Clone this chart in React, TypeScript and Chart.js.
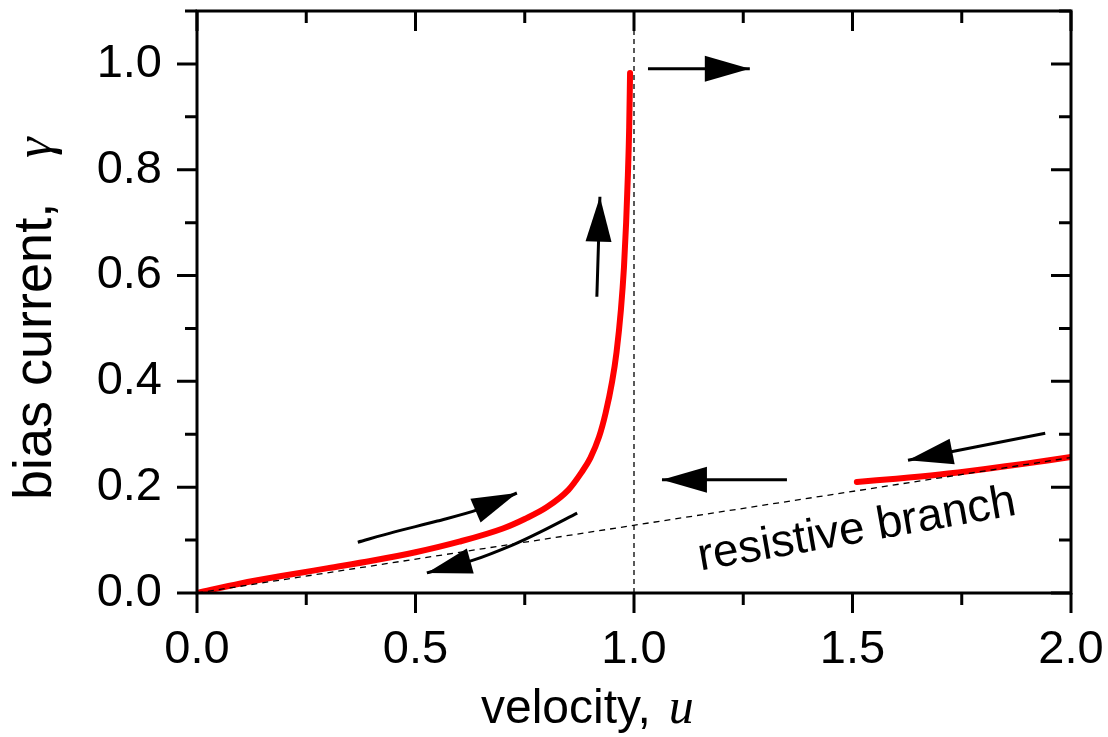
import React, { useEffect, useRef } from "react";
import { Chart, registerables } from "chart.js";

Chart.register(...registerables);

// ---- data (velocity u, bias current gamma) ----
const mainU = [0, 0.1, 0.2, 0.3, 0.4, 0.5, 0.6, 0.7, 0.75, 0.8, 0.85, 0.88, 0.9, 0.92, 0.935, 0.95, 0.96, 0.97, 0.977, 0.982, 0.986, 0.989, 0.991];
const mainG = [0, 0.018, 0.033, 0.047, 0.061, 0.077, 0.097, 0.122, 0.14, 0.162, 0.195, 0.228, 0.255, 0.295, 0.34, 0.4, 0.455, 0.535, 0.615, 0.7, 0.79, 0.88, 0.983];

const rightU = [1.51, 1.6, 1.7, 1.8, 1.9, 2.0];
const rightG = [0.21, 0.216, 0.224, 0.234, 0.245, 0.257];

const resistiveU = [0, 2.0];
const resistiveG = [0, 0.256];

const verticalU = [1.0, 1.0];
const verticalG = [0, 1.1];

const arrow1U = [0.368, 0.45, 0.55, 0.641, 0.732];
const arrow1G = [0.096, 0.115, 0.136, 0.157, 0.189];
const arrow2U = [0.87, 0.785, 0.723, 0.632, 0.526];
const arrow2G = [0.151, 0.115, 0.091, 0.062, 0.038];
const arrow3U = [0.915, 0.922];
const arrow3G = [0.56, 0.749];
const arrow4U = [1.032, 1.265];
const arrow4G = [0.991, 0.991];
const arrow5U = [1.35, 1.064];
const arrow5G = [0.214, 0.214];
const arrow6U = [1.941, 1.627];
const arrow6G = [0.302, 0.251];

const xMin = 0, xMax = 2, xStep = 0.25;
const yMin = 0, yMax = 1.1, yStep = 0.1;

const xTitle = "velocity,";
const xSymbol = "u";
const yTitle = "bias current,";
const ySymbol = "γ";
const branchLabel = "resistive branch";
const branchU = 1.51;
const branchG = 0.119;

const SANS = "'Liberation Sans', Arial, sans-serif";
const SERIF = "'Liberation Serif', 'Times New Roman', serif";
const TICK_SIZE = 47;

const pts = (us: number[], gs: number[]) => us.map((u, i) => ({ x: u, y: gs[i] }));

const isMajorX = (v: number) => Math.round(v * 4) % 2 === 0;
const isMajorY = (v: number) => Math.round(v * 10) % 2 === 0;

const framePlugin = {
  id: "frameTicks",
  afterDraw(chart: any) {
    const { ctx, chartArea: a, scales } = chart;
    const xs = scales.x, ys = scales.y;
    ctx.save();
    ctx.strokeStyle = "#000";
    ctx.lineWidth = 3;
    ctx.lineCap = "butt";
    ctx.strokeRect(a.left, a.top, a.right - a.left, a.bottom - a.top);
    ctx.beginPath();
    xs.ticks.forEach((t: any) => {
      const px = xs.getPixelForValue(t.value);
      const len = isMajorX(t.value) ? 20 : 12;
      ctx.moveTo(px, a.bottom);
      ctx.lineTo(px, a.bottom + len);
      ctx.moveTo(px, a.top);
      ctx.lineTo(px, a.top + len);
    });
    ys.ticks.forEach((t: any) => {
      const py = ys.getPixelForValue(t.value);
      const len = isMajorY(t.value) ? 20 : 12;
      ctx.moveTo(a.left, py);
      ctx.lineTo(a.left - len, py);
      ctx.moveTo(a.right, py);
      ctx.lineTo(a.right - len, py);
    });
    ctx.stroke();

    // axis titles
    ctx.fillStyle = "#000";
    ctx.textBaseline = "alphabetic";
    ctx.textAlign = "left";
    const cx = (a.left + a.right) / 2;
    ctx.font = `48px ${SANS}`;
    const xStart = cx - 153;
    ctx.fillText(xTitle, xStart, 723);
    const xw = ctx.measureText(xTitle).width;
    ctx.font = `italic 50px ${SERIF}`;
    ctx.fillText(xSymbol, xStart + xw + 18, 723);

    ctx.save();
    ctx.translate(51, 500);
    ctx.rotate(-Math.PI / 2);
    ctx.font = `54px ${SANS}`;
    ctx.fillText(yTitle, 0, 0);
    ctx.font = `italic 52px ${SERIF}`;
    ctx.fillText(ySymbol, 342, 0);
    ctx.restore();

    // rotated annotation
    ctx.save();
    ctx.translate(xs.getPixelForValue(branchU), ys.getPixelForValue(branchG));
    ctx.rotate((-10 * Math.PI) / 180);
    ctx.font = `46px ${SANS}`;
    ctx.textAlign = "center";
    ctx.textBaseline = "middle";
    ctx.fillText(branchLabel, 0, 0);
    ctx.restore();
    ctx.restore();
  },
};

const arrowPlugin = {
  id: "arrowHeads",
  afterDatasetsDraw(chart: any) {
    const { ctx } = chart;
    chart.data.datasets.forEach((ds: any, i: number) => {
      if (!ds.arrow) return;
      const meta = chart.getDatasetMeta(i);
      const n = meta.data.length;
      if (n < 2) return;
      const tip = meta.data[n - 1];
      const prev = meta.data[n - 2];
      const dx = tip.x - prev.x, dy = tip.y - prev.y;
      const L = Math.hypot(dx, dy) || 1;
      const ux = dx / L, uy = dy / L;
      const len = 45, half = 13;
      const bx = tip.x - ux * len, by = tip.y - uy * len;
      ctx.save();
      ctx.fillStyle = "#000";
      ctx.beginPath();
      ctx.moveTo(tip.x, tip.y);
      ctx.lineTo(bx - uy * half, by + ux * half);
      ctx.lineTo(bx + uy * half, by - ux * half);
      ctx.closePath();
      ctx.fill();
      ctx.restore();
    });
  },
};

const noPad = (s: any) => {
  s.paddingTop = 0;
  s.paddingBottom = 0;
  s.paddingLeft = 0;
  s.paddingRight = 0;
};

export default function App() {
  const ref = useRef<HTMLCanvasElement | null>(null);
  useEffect(() => {
    if (!ref.current) return;
    const arrowDs = (us: number[], gs: number[]) => ({
      data: pts(us, gs),
      borderColor: "#000",
      borderWidth: 3,
      pointRadius: 0,
      tension: 0.3,
      arrow: true,
    });
    const chart = new Chart(ref.current, {
      type: "line",
      data: {
        datasets: [
          { data: pts(resistiveU, resistiveG), borderColor: "#000", borderWidth: 1.3, borderDash: [6, 5], pointRadius: 0 },
          { data: pts(verticalU, verticalG), borderColor: "#000", borderWidth: 1.3, borderDash: [5, 4], pointRadius: 0 },
          { data: pts(mainU, mainG), borderColor: "#ff0000", borderWidth: 6, pointRadius: 0, cubicInterpolationMode: "monotone", borderCapStyle: "round", borderJoinStyle: "round" },
          { data: pts(rightU, rightG), borderColor: "#ff0000", borderWidth: 6, pointRadius: 0, tension: 0.3, borderCapStyle: "round" },
          arrowDs(arrow1U, arrow1G),
          arrowDs(arrow2U, arrow2G),
          arrowDs(arrow3U, arrow3G),
          arrowDs(arrow4U, arrow4G),
          arrowDs(arrow5U, arrow5G),
          arrowDs(arrow6U, arrow6G),
        ] as any,
      },
      options: {
        animation: false,
        responsive: false,
        devicePixelRatio: 1,
        layout: { padding: { left: 0, top: 11, right: 37, bottom: 0 } },
        plugins: { legend: { display: false }, tooltip: { enabled: false } },
        scales: {
          x: {
            type: "linear",
            min: xMin,
            max: xMax,
            grid: { display: false, drawTicks: false },
            border: { display: false },
            ticks: {
              stepSize: xStep,
              autoSkip: false,
              maxRotation: 0,
              padding: 29,
              color: "#000",
              font: { family: SANS, size: TICK_SIZE },
              callback: (v: any) => (isMajorX(Number(v)) ? Number(v).toFixed(1) : ""),
            },
            afterFit: (s: any) => { s.height = 144; noPad(s); },
          },
          y: {
            type: "linear",
            min: yMin,
            max: yMax,
            grid: { display: false, drawTicks: false },
            border: { display: false },
            ticks: {
              stepSize: yStep,
              autoSkip: false,
              padding: 35,
              color: "#000",
              font: { family: SANS, size: TICK_SIZE },
              callback: (v: any) => (isMajorY(Number(v)) ? Number(v).toFixed(1) : ""),
            },
            afterFit: (s: any) => { s.width = 197; noPad(s); },
          },
        },
      },
      plugins: [framePlugin, arrowPlugin],
    });
    return () => chart.destroy();
  }, []);
  return (
    <div style={{ position: "absolute", left: 0, top: 0, width: 1108, height: 737, background: "#fff" }}>
      <canvas ref={ref} width={1108} height={737} />
    </div>
  );
}
